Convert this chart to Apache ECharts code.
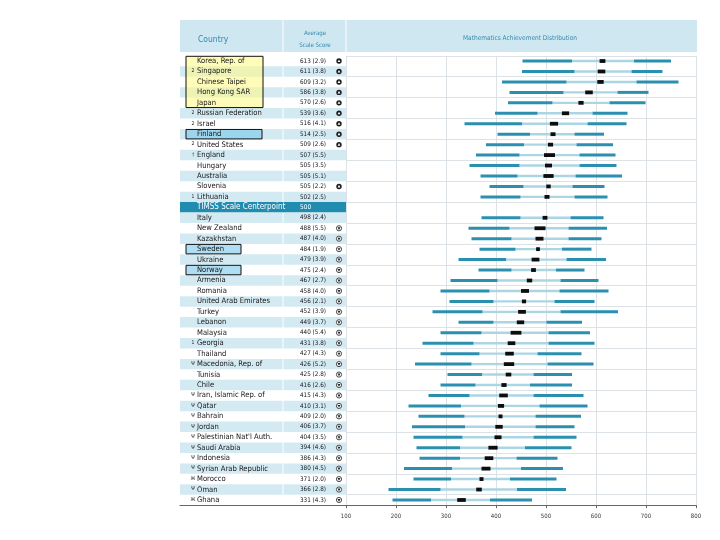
<!DOCTYPE html>
<html><head><meta charset="utf-8">
<script src="https://cdn.jsdelivr.net/npm/echarts@6/dist/echarts.min.js"></script>
<style>html,body{margin:0;padding:0;background:#fff}#c{width:720px;height:540px}</style>
</head><body><div id="c"></div>
<script>
const countries = ['Korea, Rep. of','Singapore','Chinese Taipei','Hong Kong SAR','Japan','Russian Federation','Israel','Finland','United States','England','Hungary','Australia','Slovenia','Lithuania','TIMSS Scale Centerpoint','Italy','New Zealand','Kazakhstan','Sweden','Ukraine','Norway','Armenia','Romania','United Arab Emirates','Turkey','Lebanon','Malaysia','Georgia','Thailand','Macedonia, Rep. of','Tunisia','Chile','Iran, Islamic Rep. of','Qatar','Bahrain','Jordan',"Palestinian Nat'l Auth.",'Saudi Arabia','Indonesia','Syrian Arab Republic','Morocco','Oman','Ghana'];
const marks = ['','2','','','','2','2','','2','\u2020','','','','1','','','','','','','','','','','','','','1','','\u03A8','','','\u03A8','\u03A8','\u03A8','\u03A8','\u03A8','\u03A8','\u03A8','\u03A8','\u0416','\u03A8','\u0416'];
const means = [613,611,609,586,570,539,516,514,509,507,505,505,505,502,500,498,488,487,484,479,475,467,458,456,452,449,440,431,427,426,425,416,415,410,409,406,404,394,386,380,371,366,331];
const ses = [2.9,3.8,3.2,3.8,2.6,3.6,4.1,2.5,2.6,5.5,3.5,5.1,2.2,2.5,null,2.4,5.5,4.0,1.9,3.9,2.4,2.7,4.0,2.1,3.9,3.7,5.4,3.8,4.3,5.2,2.8,2.6,4.3,3.1,2.0,3.7,3.5,4.6,4.3,4.5,2.0,2.8,4.3];
const p5  = [453,452,412,427,424,398,337,403,380,360,347,369,387,369,null,371,345,351,367,325,365,309,289,307,273,325,289,253,289,238,303,289,265,225,245,232,235,241,247,216,235,185,193];
const p25 = [552,557,541,535,513,483,452,468,456,447,447,443,455,449,null,449,427,431,439,420,431,403,387,395,373,395,371,355,367,351,372,359,347,330,337,338,333,328,328,312,310,289,270];
const p75 = [676,671,681,643,627,593,583,557,561,567,567,559,553,557,null,549,545,545,532,541,520,529,527,517,529,501,505,505,483,503,475,468,475,487,479,479,475,458,441,450,428,442,388];
const p95 = [750,733,765,705,699,663,661,616,634,639,641,652,617,623,null,615,622,611,591,620,577,605,625,597,644,572,588,597,571,595,552,552,575,583,570,557,561,551,523,534,521,540,472];
const signif = ['up','up','up','up','up','up','up','up','up','','','','up','','','','down','down','down','down','down','down','down','down','down','down','down','down','down','down','down','down','down','down','down','down','down','down','down','down','down','down','down'];
const highlightRows = [[0,4],[7,7],[18,18],[20,20]];
const centerIdx = 14;

const FONT = "'Liberation Sans Narrow','DejaVu Sans Condensed',sans-serif";
const STRIPE = '#d4eaf2';
const HDR = '#cfe7f0';
const DARK = '#2b90b0';
const LIGHT = '#acd5e4';
const TEAL_TXT = '#3489b0';

const chart = echarts.init(document.getElementById('c'), null, {renderer:'canvas'});

function txt(x, y, text, size, fill, align, weight) {
  return {type:'text', x:x, y:y, style:{text:text, fill:fill, fontSize:size, fontFamily:FONT, fontWeight:weight||'normal',
    textAlign:align||'left', textVerticalAlign:'middle', align:align||'left', verticalAlign:'middle'}};
}

function renderStripe(params, api) {
  const i = api.value(1);
  const y = api.coord([0, i])[1];
  const h = api.size([0, 1])[1];
  if (i === centerIdx) {
    return {type:'group', children:[{type:'rect', shape:{x:180, y:y-h/2, width:166, height:h}, style:{fill:'#1f8cb0'}}]};
  }
  if (i % 2 === 1) {
    return {type:'group', children:[
      {type:'rect', shape:{x:180, y:y-h/2, width:102.5, height:h}, style:{fill:STRIPE}},
      {type:'rect', shape:{x:283.5, y:y-h/2, width:62.5, height:h}, style:{fill:STRIPE}}
    ]};
  }
  return {type:'group', children:[]};
}

function renderBox(params, api) {
  const a = api.value(1), b = api.value(2), k = params.dataIndex;
  const h = api.size([0, 1])[1];
  const y0 = api.coord([0, a])[1] - h/2;
  const y1 = api.coord([0, b])[1] + h/2;
  const w = k === 0 ? 77 : (k === 1 ? 76 : 55);
  const fill = k === 0 ? 'rgba(255,250,130,0.55)' : 'rgba(110,195,235,0.55)';
  return {type:'rect', shape:{x:186, y:y0+0.5, width:w, height:y1-y0-1}, style:{fill:fill, stroke:'#111', lineWidth:1}};
}

function renderText(params, api) {
  const i = api.value(1);
  const y = api.coord([0, i])[1];
  const ch = [];
  if (i === centerIdx) {
    ch.push(txt(197, y, countries[i], 8, '#ffffff', 'left'));
    ch.push(txt(300, y, String(means[i]), 6.5, '#ffffff', 'left'));
    return {type:'group', children:ch};
  }
  if (marks[i]) ch.push(txt(193, y-0.5, marks[i], 5, '#222', 'center'));
  ch.push(txt(197, y, countries[i], 7.6, '#151515', 'left'));
  ch.push(txt(300, y, means[i] + ' (' + ses[i].toFixed(1) + ')', 6.3, '#151515', 'left'));
  const cx = 339;
  if (signif[i] === 'up') {
    ch.push({type:'circle', shape:{cx:cx, cy:y, r:2.7}, style:{fill:'#1a1a1a'}});
    ch.push({type:'polygon', shape:{points:[[cx, y-1.6],[cx-1.4, y+1],[cx+1.4, y+1]]}, style:{fill:'#fff'}});
  } else if (signif[i] === 'down') {
    ch.push({type:'circle', shape:{cx:cx, cy:y, r:2.6}, style:{fill:'#fff', stroke:'#222', lineWidth:0.8}});
    ch.push({type:'polygon', shape:{points:[[cx, y+1.7],[cx-1.5, y-1],[cx+1.5, y-1]]}, style:{fill:'#222'}});
  }
  return {type:'group', children:ch};
}

function renderDist(params, api) {
  const i = api.value(0);
  const y = api.coord([100, i])[1];
  const X = v => api.coord([v, i])[0];
  const a = X(api.value(1)), b = X(api.value(2)), lo = X(api.value(3)), hi = X(api.value(4)), c = X(api.value(5)), d = X(api.value(6));
  return {type:'group', children:[
    {type:'rect', shape:{x:b, y:y-1.2, width:c-b, height:2.4}, style:{fill:LIGHT}},
    {type:'rect', shape:{x:a, y:y-1.5, width:b-a, height:3}, style:{fill:DARK}},
    {type:'rect', shape:{x:c, y:y-1.5, width:d-c, height:3}, style:{fill:DARK}},
    {type:'rect', shape:{x:lo, y:y-1.9, width:Math.max(hi-lo, 3), height:3.8}, style:{fill:'#0d0d0d'}}
  ]};
}

const rowData = countries.map((_, i) => [0, i]);
const distData = [];
countries.forEach((_, i) => {
  if (p5[i] == null) return;
  distData.push([i, p5[i], p25[i], means[i] - 2*ses[i], means[i] + 2*ses[i], p75[i], p95[i]]);
});

const option = {
  animation: false,
  backgroundColor: '#fff',
  grid: [
    {left:180, width:166, top:55.8, bottom:34.8},
    {left:346, right:24, top:55.8, bottom:34.8}
  ],
  xAxis: [
    {gridIndex:0, type:'value', min:0, max:166, axisLine:{show:true, lineStyle:{color:'#666', width:1}}, axisTick:{show:false}, axisLabel:{show:false}, splitLine:{show:false}},
    {gridIndex:1, type:'value', min:100, max:800, interval:100,
      axisLine:{show:true, lineStyle:{color:'#666', width:1}},
      axisTick:{show:true, length:3, lineStyle:{color:'#666'}},
      axisLabel:{fontSize:6, color:'#333', margin:8, fontFamily:FONT},
      splitLine:{show:true, lineStyle:{color:'#dde2e6', width:1}}}
  ],
  yAxis: [
    {gridIndex:0, type:'category', data:countries, inverse:true, show:false},
    {gridIndex:1, type:'category', data:countries, inverse:true,
      axisLine:{show:false}, axisTick:{show:false}, axisLabel:{show:false},
      splitLine:{show:true, lineStyle:{color:'#dde2e6', width:1}}}
  ],
  graphic: [
    {type:'rect', shape:{x:180, y:20, width:102.5, height:32}, style:{fill:HDR}},
    {type:'rect', shape:{x:283.5, y:20, width:62, height:32}, style:{fill:HDR}},
    {type:'rect', shape:{x:346.5, y:20, width:350.5, height:32}, style:{fill:HDR}},
    {type:'text', x:198, y:40, style:{text:'Country', fill:TEAL_TXT, fontSize:8.5, fontFamily:FONT, textAlign:'left', textVerticalAlign:'middle'}},
    {type:'text', x:315, y:33, style:{text:'Average', fill:TEAL_TXT, fontSize:6, fontFamily:FONT, textAlign:'center', textVerticalAlign:'middle'}},
    {type:'text', x:315, y:45, style:{text:'Scale Score', fill:TEAL_TXT, fontSize:6, fontFamily:FONT, textAlign:'center', textVerticalAlign:'middle'}},
    {type:'text', x:520, y:38, style:{text:'Mathematics Achievement Distribution', fill:TEAL_TXT, fontSize:6.5, fontFamily:FONT, textAlign:'center', textVerticalAlign:'middle'}}
  ],
  series: [
    {type:'custom', xAxisIndex:0, yAxisIndex:0, z:1, data:rowData, encode:{x:0, y:1}, renderItem:renderStripe, silent:true},
    {type:'custom', xAxisIndex:0, yAxisIndex:0, z:2, data:highlightRows.map(r => [0, r[0], r[1]]), encode:{x:0, y:[1,2]}, renderItem:renderBox, silent:true},
    {type:'custom', xAxisIndex:0, yAxisIndex:0, z:3, data:rowData, encode:{x:0, y:1}, renderItem:renderText, silent:true},
    {type:'custom', xAxisIndex:1, yAxisIndex:1, z:3, data:distData, encode:{x:[1,2,3,4,5,6], y:0}, renderItem:renderDist, silent:true}
  ]
};
chart.setOption(option);
</script>
</body></html>
